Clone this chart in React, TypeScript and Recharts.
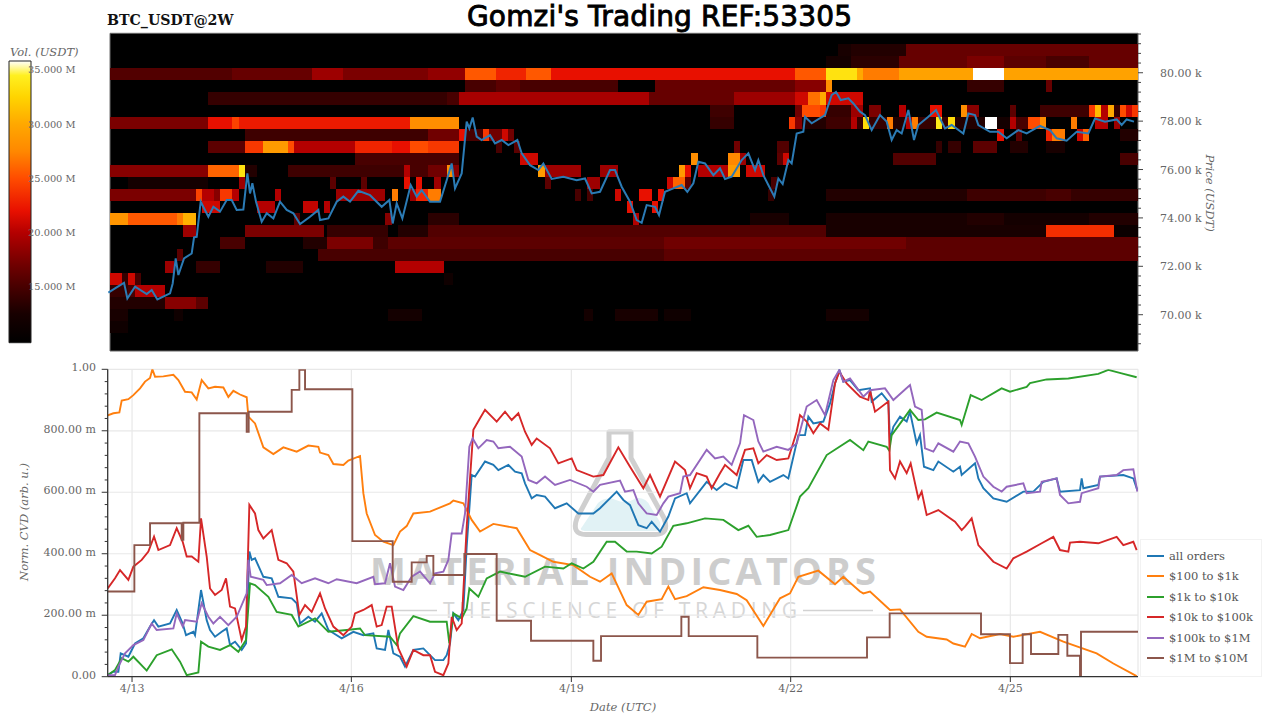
import React from 'react';
import {
  ComposedChart,
  LineChart,
  Line,
  XAxis,
  YAxis,
  CartesianGrid,
  Legend,
  ReferenceArea,
} from 'recharts';

const SERIF = '"DejaVu Serif", serif';
const PLOT_LEFT = 107.7;
const PLOT_RIGHT = 1138;

// time is kept in samples (about 6.6 min each), 4/13 00:00 is sample 396
const tMin = 323;
const tMax = 3414;
const dateTicks = [396, 1054, 1714, 2372, 3031];
const dateLabels = ['4/13', '4/16', '4/19', '4/22', '4/25'];

const priceMin = 68.5;
const priceMax = 81.63;
const priceLabels = [70, 72, 74, 76, 78, 80];
const priceMinor = [68.8, 69.2, 69.6, 70, 70.4, 70.8, 71.2, 71.6, 72, 72.4, 72.8, 73.2, 73.6, 74, 74.4, 74.8, 75.2, 75.6, 76, 76.4, 76.8, 77.2, 77.6, 78, 78.4, 78.8, 79.2, 79.6, 80, 80.4, 80.8, 81.2, 81.6];

const cvdLabels: Record<number, string> = { 0: '0.00', 200: '200.00 m', 400: '400.00 m', 600: '600.00 m', 800: '800.00 m', 1000: '1.00' };
const cvdTicks = [0, 40, 80, 120, 160, 200, 240, 280, 320, 360, 400, 440, 480, 520, 560, 600, 640, 680, 720, 760, 800, 840, 880, 920, 960, 1000];

const volLabels = [15, 20, 25, 30, 35];
const volMin = 9.83;
const volMax = 35.83;
// colour bar stops: [volume in M, colour]
const volStops: [number, string][] = [
  [9.83, '#000000'], [12.5, '#180000'], [15, '#480000'], [17, '#700000'], [20, '#b40000'], [22, '#e81000'],
  [25, '#ff4c00'], [27.5, '#ff8800'], [30, '#ffa800'], [32.5, '#ffd400'], [34.5, '#fff020'], [35.83, '#ffffff'],
];

// heatmap, one list per price bin from the top: [first column, last column, volume in M]
const heatRows: [number, number, number][][] = [
  [],
  [[119, 121, 12.5], [121, 130, 13], [130, 168, 16.5]],
  [[117, 121, 12], [121, 129, 13.5], [129, 140, 16.5], [140, 146, 17.5], [146, 153, 16], [153, 160, 15], [160, 168, 16.5]],
  [[0, 20, 15.5], [20, 33, 16.5], [33, 38, 19], [38, 52, 17.5], [52, 58, 18.5], [58, 63, 25.5], [63, 68, 23], [68, 72, 25.5], [72, 112, 22], [112, 117, 25.5], [117, 122, 33.5], [122, 123, 30], [123, 129, 27], [129, 141, 29.5], [141, 146, 36], [146, 168, 29.5]],
  [[58, 63, 15], [63, 67, 16], [67, 83, 15], [89, 112, 16.5], [112, 117, 18], [117, 118, 28], [140, 146, 14], [153, 154, 16.5]],
  [[16, 55, 14], [55, 57, 15], [57, 88, 19.5], [88, 102, 16.5], [102, 112, 19], [112, 114, 21], [114, 116, 26.5], [116, 117, 30], [117, 123, 21]],
  [[98, 102, 14.5], [112, 113, 17], [113, 116, 25], [116, 117, 24], [117, 121, 14], [121, 123, 19], [124, 126, 17.5], [129, 130, 20], [134, 136, 22], [139, 140, 28], [140, 142, 18], [147, 148, 16], [152, 160, 14.5], [160, 161, 24], [161, 162, 31], [162, 163, 20], [163, 164, 30], [164, 165, 14], [165, 166, 25], [166, 167, 21], [167, 168, 24]],
  [[0, 16, 17.5], [16, 20, 22], [20, 21, 24.5], [21, 49, 22.5], [49, 57, 28], [98, 102, 14], [111, 112, 24], [112, 113, 18], [113, 117, 13], [117, 121, 14.5], [121, 122, 20], [122, 123, 14], [123, 124, 33], [124, 127, 14], [127, 128, 27], [128, 130, 13], [130, 131, 20], [131, 132, 27], [132, 135, 14], [135, 136, 34], [136, 137, 14], [137, 138, 33], [138, 143, 13], [143, 145, 36], [145, 147, 12], [147, 148, 20], [148, 150, 15], [150, 152, 25], [152, 153, 28], [157, 158, 27], [161, 163, 20], [164, 165, 19]],
  [[22, 52, 14.5], [52, 57, 17], [57, 58, 22], [58, 61, 15], [61, 62, 24], [62, 64, 17], [64, 65, 21], [65, 66, 17], [145, 146, 22], [148, 149, 16], [153, 154, 23], [154, 156, 27], [158, 159, 21], [159, 160, 26], [165, 168, 13]],
  [[16, 22, 16], [22, 25, 24], [25, 29, 29], [29, 30, 25], [30, 40, 20], [40, 46, 23], [46, 49, 22], [49, 52, 25], [52, 57, 24], [63, 64, 15], [66, 67, 16], [102, 103, 17], [109, 111, 15.5], [135, 136, 14], [137, 139, 14], [141, 145, 16], [147, 150, 13], [153, 156, 12.5]],
  [[40, 57, 15], [67, 70, 21], [95, 96, 28], [101, 103, 27.5], [103, 104, 19], [109, 110, 16], [110, 111, 21], [128, 135, 15.5], [165, 168, 15]],
  [[0, 16, 18], [16, 21, 26], [21, 22, 33.5], [22, 24, 13], [29, 48, 14.5], [48, 49, 20], [49, 52, 15], [52, 55, 17], [55, 56, 28], [56, 57, 18], [70, 71, 29], [71, 77, 19], [80, 83, 19], [93, 94, 29], [94, 95, 22], [96, 101, 20], [101, 103, 29], [104, 107, 21]],
  [[3, 16, 12], [21, 22, 19], [36, 37, 16], [41, 42, 16], [48, 49, 22], [50, 51, 22], [53, 54, 19], [71, 72, 16], [78, 80, 19], [91, 92, 21], [92, 94, 26], [94, 95, 16], [108, 109, 15]],
  [[0, 14, 17.5], [14, 15, 24.5], [15, 17, 20], [17, 18, 18], [18, 20, 24], [20, 21, 20], [27, 28, 20], [37, 45, 19], [46, 47, 27], [49, 50, 19], [50, 52, 23], [52, 54, 27], [76, 77, 15], [78, 79, 15], [82.5, 83.5, 21], [86.5, 88.5, 22], [89.5, 90.5, 22], [107.5, 108.5, 14], [117, 140, 13], [140, 153, 14.5], [153, 157, 15], [157, 168, 14]],
  [[15, 18, 21], [24, 27, 20], [31.5, 34, 20.5], [35, 36, 20], [84.5, 85.5, 22], [88.5, 89.5, 22]],
  [[0, 3, 28.5], [3, 11, 25.5], [11, 12, 27], [12, 14, 30.5], [30, 31, 16], [45, 46, 18], [52, 57, 13.5], [85.5, 86.5, 20], [104.5, 111, 12.5], [117, 140, 12.5], [140, 146, 13], [146, 160, 12], [160, 168, 13]],
  [[12, 14, 19], [22, 35, 17.5], [35.5, 45.5, 14], [47, 52, 13], [52, 117, 15.5], [117, 153, 12.5], [153, 164, 23.5], [164, 168, 11]],
  [[18, 22, 15], [31.5, 35.5, 13], [35.5, 43, 17.5], [43, 45.5, 14.5], [45.5, 90.5, 16], [90.5, 130, 17], [130, 168, 16]],
  [[11, 12, 16], [34, 90.5, 15], [90.5, 168, 16]],
  [[9, 10.5, 19], [14, 18, 14], [25.5, 31.5, 13], [46.5, 54.5, 20]],
  [[0, 2, 21], [2, 3, 14], [3, 4, 21], [4, 5, 15], [54.5, 56, 11.5]],
  [[0, 3, 14], [3, 4, 15], [4, 9, 20]],
  [[0, 9, 13], [9, 14, 18], [14, 16, 16]],
  [[0, 3, 12.5], [10.5, 12, 11.5], [45.5, 51, 12], [77.5, 79, 12], [82.5, 89.5, 12.5], [90.5, 95, 11.5], [117, 124, 12]],
  [[0, 3, 11.5]],
];

// last traded price, [sample, k USDT]
const price: [number, number][] = [
  [325, 70.91], [345, 71.09], [362, 71.23], [372, 71.32], [382, 70.67], [405, 71.16], [440, 70.85], [455, 71.02], [472, 70.63], [510, 70.88], [518, 71.29], [527, 72.33], [535, 71.64], [552, 72.33], [575, 72.53], [582, 73.2], [590, 73.22], [602, 74.67], [625, 74.05], [640, 74.46], [660, 74.26], [680, 74.74], [695, 74.74], [710, 74.33], [730, 74.35], [742, 75.84], [750, 75.01], [757, 75.43], [768, 74.67], [785, 73.84], [800, 74.19], [820, 73.98], [840, 74.67], [860, 74.33], [880, 74.19], [900, 73.75], [930, 74.05], [955, 74.33], [960, 73.91], [985, 73.98], [1010, 74.67], [1030, 74.88], [1050, 74.67], [1075, 75.12], [1110, 74.94], [1145, 74.46], [1168, 74.74], [1178, 73.77], [1190, 74.6], [1207, 73.98], [1232, 75.36], [1250, 74.88], [1265, 75.15], [1290, 74.67],
  [1320, 74.67], [1340, 75.56], [1355, 76.25], [1365, 75.22], [1385, 75.84], [1400, 77.98], [1408, 77.7], [1418, 78.15], [1430, 77.36], [1445, 77.22], [1470, 77.42], [1485, 77.08], [1505, 77.22], [1525, 77.01], [1552, 77.22], [1565, 76.67], [1590, 76.18], [1615, 75.98], [1630, 76.25], [1655, 75.61], [1690, 75.7], [1730, 75.56], [1755, 75.63], [1775, 75.01], [1800, 75.08], [1830, 75.98], [1845, 75.98], [1865, 75.29], [1890, 74.67], [1910, 73.91], [1925, 73.8], [1940, 74.53], [1965, 74.46], [1977, 74.12], [1995, 75.08], [2020, 75.22], [2045, 75.36], [2062, 75.08], [2080, 75.43], [2095, 76.32], [2115, 76.25], [2140, 75.77], [2160, 76.05], [2175, 75.61], [2195, 75.7], [2225, 76.39], [2245, 76.67], [2265, 75.98], [2275, 76.39], [2290, 75.77], [2305, 75.36], [2323, 74.88], [2335, 75.63], [2348, 75.4], [2365, 76.39], [2375, 76.25], [2390, 77.49], [2410, 77.56], [2415, 78.18], [2435, 77.91], [2475, 78.25], [2495, 79.08], [2508, 79.21], [2522, 78.87], [2545, 78.94],
  [2560, 78.73], [2580, 78.39], [2595, 78.25], [2615, 77.63], [2640, 78.25], [2660, 77.98], [2675, 77.22], [2690, 77.63], [2705, 77.49], [2725, 78.46], [2742, 77.22], [2755, 77.84], [2785, 78.18], [2808, 78.46], [2835, 77.7], [2855, 77.84], [2890, 77.49], [2905, 78.32], [2925, 78.25], [2935, 77.84], [2970, 77.56], [2995, 77.56], [3020, 77.29], [3055, 77.63], [3080, 77.49], [3120, 77.8], [3150, 77.63], [3170, 77.29], [3200, 77.19], [3230, 77.56], [3265, 77.49], [3285, 78.11], [3315, 77.98], [3350, 78.07], [3365, 77.84], [3380, 78.07], [3402, 77.98],
];

// normalised CVD per order size, [sample, milli]
const allOrders: [number, number][] = [
  [323, 5], [340, 16], [355, 16], [362, 76], [385, 65], [405, 108], [430, 125], [450, 163], [462, 184], [475, 163], [510, 173], [530, 217], [548, 173], [558, 135], [580, 146], [585, 135], [603, 282], [620, 184], [630, 152], [645, 130], [665, 146], [680, 157], [690, 103], [705, 114], [725, 87], [738, 108], [748, 407], [755, 380], [765, 385], [790, 325], [815, 320], [835, 260], [875, 255], [890, 239], [900, 173], [925, 195], [945, 179], [965, 206], [985, 152], [1025, 125], [1060, 146], [1090, 135], [1120, 141], [1130, 92], [1155, 87], [1165, 152], [1180, 76], [1200, 65], [1215, 33], [1240, 87], [1270, 92], [1290, 70],
  [1305, 54], [1330, 54], [1340, 70], [1350, 108], [1360, 206], [1375, 184], [1390, 217], [1400, 423], [1415, 656], [1425, 651], [1455, 700], [1480, 689], [1495, 672], [1525, 689], [1545, 667], [1565, 662], [1575, 629], [1595, 580], [1610, 591], [1635, 586], [1665, 548], [1700, 564], [1735, 531], [1780, 531], [1800, 548], [1850, 602], [1870, 575], [1890, 558], [1915, 493], [1940, 483], [1955, 504], [1980, 472], [2005, 521], [2025, 580], [2060, 597], [2070, 564], [2120, 634], [2150, 607], [2175, 629], [2210, 613], [2230, 705], [2255, 705], [2275, 634], [2290, 656], [2310, 634], [2350, 656], [2365, 645], [2385, 738], [2395, 786], [2415, 786], [2425, 846], [2440, 824], [2470, 830], [2490, 889], [2505, 954], [2518, 998], [2530, 960],
  [2550, 965], [2575, 932], [2610, 938], [2615, 895], [2645, 922], [2665, 895], [2670, 770], [2680, 813], [2700, 846], [2720, 830], [2730, 862], [2750, 759], [2760, 786], [2772, 683], [2800, 672], [2815, 700], [2860, 667], [2880, 683], [2885, 656], [2925, 694], [2935, 645], [2950, 613], [2980, 580], [3020, 569], [3070, 602], [3100, 602], [3130, 634], [3170, 645], [3180, 602], [3240, 607], [3245, 645], [3250, 613], [3295, 624], [3300, 651], [3370, 656], [3400, 645], [3412, 607],
];

const hundredToOneK: [number, number][] = [
  [323, 850], [340, 857], [358, 860], [365, 898], [385, 903], [400, 916], [420, 938], [435, 960], [450, 972], [457, 1000], [465, 976], [490, 977], [520, 982], [535, 965], [555, 927], [575, 925], [590, 902], [605, 965], [625, 938], [645, 943], [670, 941], [685, 910], [700, 930], [720, 918], [740, 909], [745, 846], [765, 824], [790, 746], [820, 724], [850, 746], [890, 732], [925, 752], [955, 748], [960, 729], [985, 721], [1000, 692], [1030, 689], [1045, 703], [1080, 718], [1090, 597], [1100, 531], [1125, 461], [1150, 439], [1180, 428], [1200, 472], [1220, 490], [1240, 531], [1290, 537],
  [1350, 564], [1360, 573], [1390, 564], [1415, 510], [1440, 472], [1480, 497], [1550, 483], [1590, 412], [1610, 401], [1660, 374], [1720, 363], [1770, 325], [1800, 309], [1835, 336], [1880, 233], [1915, 201], [1940, 244], [1985, 252], [2005, 293], [2025, 252], [2060, 262], [2110, 291], [2160, 282], [2210, 269], [2240, 249], [2290, 165], [2340, 255], [2370, 271], [2395, 325], [2455, 345], [2505, 301], [2530, 325],
  [2580, 277], [2590, 271], [2610, 277], [2670, 217], [2700, 219], [2755, 146], [2780, 130], [2840, 121], [2860, 108], [2895, 98], [2915, 139], [2940, 125], [3000, 139], [3040, 130], [3120, 146], [3190, 114], [3290, 76], [3340, 43], [3410, 2],
];

const oneKToTenK: [number, number][] = [
  [323, 5], [345, 22], [365, 60], [385, 49], [400, 65], [440, 20], [470, 70], [515, 89], [540, 49], [560, 5], [595, 14], [603, 114], [625, 98], [660, 87], [690, 103], [715, 81], [738, 119], [750, 304], [765, 298], [805, 260], [830, 211], [875, 201], [895, 163], [945, 190], [985, 146], [1040, 152], [1080, 157], [1095, 135], [1170, 130], [1190, 103], [1200, 141], [1240, 197], [1290, 179],
  [1340, 179], [1348, 108], [1360, 206], [1385, 190], [1400, 222], [1408, 287], [1435, 260], [1460, 320], [1500, 342], [1575, 325], [1635, 358], [1690, 352], [1715, 369], [1750, 352], [1780, 374], [1820, 439], [1845, 439], [1880, 407], [1910, 407], [1955, 401], [1985, 423], [2020, 491], [2060, 499], [2115, 515], [2170, 510], [2215, 477], [2245, 491], [2270, 455], [2310, 461], [2365, 477], [2400, 586], [2425, 613], [2480, 721], [2550, 770],
  [2590, 737], [2605, 765], [2660, 748], [2668, 735], [2675, 786], [2730, 868], [2755, 835], [2775, 837], [2810, 859], [2880, 835], [2885, 819], [2912, 916], [2945, 900], [3005, 938], [3030, 927], [3080, 943], [3090, 955], [3140, 967], [3205, 970], [3295, 985], [3325, 998], [3365, 987], [3410, 974],
];

const tenKToHundredK: [number, number][] = [
  [323, 287], [345, 320], [360, 347], [385, 315], [400, 358], [425, 380], [445, 407], [462, 456], [475, 412], [510, 428], [530, 483], [548, 439], [560, 391], [575, 391], [595, 374], [603, 515], [620, 391], [630, 287], [645, 266], [665, 282], [678, 320], [690, 228], [705, 222], [725, 119], [738, 163], [748, 559], [765, 531], [775, 477], [790, 450], [815, 477], [835, 380], [860, 369], [880, 342], [898, 201], [915, 233], [935, 211], [960, 271], [975, 222], [1000, 163], [1030, 135], [1055, 163], [1065, 206], [1090, 217], [1115, 233], [1130, 163], [1145, 168], [1160, 228], [1175, 228], [1195, 92], [1220, 33], [1240, 87], [1270, 70], [1290, 70],
  [1305, 16], [1330, 5], [1345, 43], [1355, 195], [1370, 152], [1385, 173], [1400, 488], [1420, 803], [1440, 841], [1455, 868], [1490, 830], [1515, 862], [1535, 835], [1555, 857], [1575, 797], [1595, 754], [1610, 775], [1650, 743], [1675, 694], [1715, 710], [1730, 672], [1780, 651], [1810, 656], [1855, 746], [1890, 683], [1930, 613], [1950, 656], [1980, 586], [2025, 700], [2055, 672], [2070, 613], [2090, 662], [2120, 651], [2135, 613], [2160, 662], [2175, 689], [2210, 656], [2235, 738], [2260, 743], [2275, 694], [2300, 721], [2330, 705], [2365, 710], [2390, 797], [2400, 851], [2420, 830], [2440, 792], [2460, 824], [2485, 803], [2505, 954], [2518, 992], [2540, 954],
  [2580, 911], [2605, 900], [2610, 932], [2625, 862], [2665, 895], [2670, 672], [2685, 645], [2700, 700], [2720, 662], [2732, 694], [2755, 580], [2765, 602], [2780, 526], [2815, 542], [2865, 504], [2885, 477], [2895, 488], [2915, 515], [2935, 428], [2980, 374], [3020, 352], [3040, 385], [3080, 407], [3125, 434], [3160, 455], [3180, 412], [3205, 407], [3210, 436], [3240, 439], [3295, 434], [3350, 455], [3370, 428], [3400, 439], [3410, 412],
];

const hundredKToOneM: [number, number][] = [
  [323, 5], [345, 5], [355, 33], [375, 76], [400, 103], [430, 119], [455, 173], [470, 152], [520, 157], [530, 206], [548, 163], [555, 184], [590, 179], [605, 239], [625, 195], [640, 173], [660, 195], [685, 168], [710, 195], [740, 271], [745, 380], [752, 325], [790, 315], [800, 298], [840, 304], [875, 331], [905, 304], [945, 320], [985, 304], [1010, 317], [1070, 304], [1120, 325], [1125, 301], [1155, 304], [1170, 369], [1185, 293], [1210, 282], [1235, 325], [1260, 342], [1290, 304],
  [1305, 336], [1330, 342], [1345, 380], [1355, 466], [1385, 466], [1395, 531], [1408, 748], [1418, 775], [1435, 743], [1460, 770], [1480, 765], [1495, 743], [1530, 748], [1565, 716], [1585, 640], [1610, 629], [1635, 651], [1665, 624], [1710, 640], [1760, 618], [1780, 602], [1800, 624], [1860, 638], [1875, 602], [1900, 607], [1915, 564], [1940, 531], [1970, 526], [1990, 564], [2005, 586], [2040, 597], [2050, 651], [2070, 656], [2120, 738], [2145, 710], [2170, 716], [2195, 689], [2220, 759], [2232, 851], [2260, 835], [2275, 765], [2290, 732], [2330, 748], [2365, 738], [2390, 759], [2420, 879], [2450, 900], [2475, 851], [2500, 965], [2518, 998], [2530, 960],
  [2550, 970], [2590, 911], [2610, 932], [2655, 938], [2680, 900], [2730, 949], [2745, 879], [2765, 868], [2775, 743], [2800, 732], [2815, 759], [2860, 732], [2880, 765], [2905, 759], [2925, 716], [2950, 651], [2980, 618], [3005, 602], [3020, 618], [3070, 629], [3080, 597], [3120, 602], [3125, 634], [3170, 645], [3180, 591], [3205, 564], [3240, 569], [3245, 597], [3295, 613], [3300, 651], [3350, 656], [3370, 672], [3400, 675], [3412, 602],
];

// large orders move in steps
const oneMToTenM: [number, number][] = [
  [323, 277], [403, 428], [450, 499], [545, 445], [550, 501], [598, 857], [740, 797], [746, 862], [875, 933], [898, 998], [915, 935], [1057, 441], [1178, 309], [1235, 372], [1280, 393], [1300, 331], [1393, 399], [1490, 182], [1593, 117], [1780, 52], [1803, 132], [2044, 195], [2066, 132], [2272, 62], [2601, 128], [2669, 206], [2943, 138], [3030, 44], [3068, 138], [3093, 74], [3175, 136], [3202, 68], [3240, 0], [3243, 146], [3414, 146],
];

const seriesList: { name: string; color: string; values: [number, number][]; step?: boolean }[] = [
  { name: 'all orders', color: '#1f77b4', values: allOrders },
  { name: '$100 to $1k', color: '#ff7f0e', values: hundredToOneK },
  { name: '$1k to $10k', color: '#2ca02c', values: oneKToTenK },
  { name: '$10k to $100k', color: '#d62728', values: tenKToHundredK },
  { name: '$100k to $1M', color: '#9467bd', values: hundredKToOneM },
  { name: '$1M to $10M', color: '#8c564b', values: oneMToTenM, step: true },
];

const hexChannel = (hex: string, i: number) => parseInt(hex.slice(1 + i * 2, 3 + i * 2), 16);

const volColor = (vol: number) => {
  for (let i = 1; i < volStops.length; i++) {
    if (vol <= volStops[i][0]) {
      const [v0, c0] = volStops[i - 1];
      const [v1, c1] = volStops[i];
      const f = Math.max(0, (vol - v0) / (v1 - v0));
      const ch = [0, 1, 2].map((k) => Math.round(hexChannel(c0, k) + (hexChannel(c1, k) - hexChannel(c0, k)) * f));
      return `rgb(${ch.join(',')})`;
    }
  }
  return '#ffffff';
};

const colToSample = (c: number) => Math.min(tMax, 330 + c * 18.36);
const rowTop = (i: number) => 81.67 - i * 0.4972;

const textStyle = { fontFamily: SERIF, fontSize: 11, fill: '#666666' };

const PriceTick = ({ y, payload }: any) => {
  const major = priceLabels.includes(payload.value);
  return (
    <g>
      <line x1={PLOT_RIGHT} x2={PLOT_RIGHT + (major ? 5 : 3)} y1={y} y2={y} stroke="#444" strokeWidth={1} />
      {major && (
        <text x={1160} y={y + 4} style={textStyle}>{`${payload.value.toFixed(2)} k`}</text>
      )}
    </g>
  );
};

const CvdTick = ({ y, payload }: any) => {
  const label = cvdLabels[payload.value];
  return (
    <g>
      <line x1={PLOT_LEFT - (label ? 6 : 3)} x2={PLOT_LEFT} y1={y} y2={y} stroke="#333" strokeWidth={1} />
      {label && (
        <text x={96} y={y + 2} textAnchor="end" style={textStyle}>{label}</text>
      )}
    </g>
  );
};

const DateTick = ({ x, payload }: any) => (
  <g>
    <line x1={x} x2={x} y1={322} y2={327} stroke="#333" strokeWidth={1} />
    <text x={x} y={337} textAnchor="middle" style={textStyle}>{dateLabels[dateTicks.indexOf(payload.value)]}</text>
  </g>
);

const VolTick = ({ y, payload }: any) => (
  <text x={75.5} y={y + 3.5} textAnchor="end" style={{ ...textStyle, fontSize: 9.8 }}>{`${payload.value.toFixed(3)} M`}</text>
);

const CvdLegend = () => (
  <div style={{ width: 122, height: 138, background: '#fff', border: '1px solid #f2f2f2', boxSizing: 'border-box' }}>
    {seriesList.map((s, i) => (
      <div key={s.name} style={{ position: 'absolute', left: 7, top: 7 + i * 20.4, height: 20, display: 'flex', alignItems: 'center', whiteSpace: 'nowrap' }}>
        <span style={{ display: 'inline-block', width: 17, height: 2, background: s.color, marginRight: 5 }} />
        <span style={{ fontFamily: SERIF, fontSize: 11.5, color: '#555' }}>{s.name}</span>
      </div>
    ))}
  </div>
);

const Backdrop = () => (
  <svg width={1280} height={720} style={{ position: 'absolute', left: 0, top: 0 }}>
    <text x={107} y={25} style={{ fontFamily: SERIF, fontSize: 14.2, fontWeight: 700, fill: '#111' }}>BTC_USDT@2W</text>
    <text x={467} y={26} textLength={385} lengthAdjust="spacing" stroke="#000" strokeWidth={0.9} style={{ fontFamily: '"DejaVu Sans", sans-serif', fontSize: 28, fill: '#000' }}>{"Gomzi's Trading REF:53305"}</text>
    <text x={10} y={56} style={{ ...textStyle, fontStyle: 'italic', fontSize: 11.5 }}>Vol. (USDT)</text>
    <text x={1206} y={193} textAnchor="middle" transform="rotate(90 1206 193)" style={{ ...textStyle, fontStyle: 'italic', fontSize: 11.5 }}>Price (USDT)</text>
    <text x={28} y={522} textAnchor="middle" transform="rotate(-90 28 522)" style={{ ...textStyle, fontStyle: 'italic', fontSize: 11.5 }}>Norm. CVD (arb. u.)</text>
    <text x={623} y={711} textAnchor="middle" style={{ ...textStyle, fontStyle: 'italic', fontSize: 11.5 }}>Date (UTC)</text>

    {/* watermark sits behind the lines */}
    <path d="M582,527 L598,503 Q606,496 616,500 Q626,505 636,498 Q646,497 650,506 L660,522 Q662,531 654,531 L588,531 Q578,531 582,527 Z" fill="#e1f2f5" />
    <path d="M609,432 L631,432 L631,458 L664,518 Q670,534.5 655,534.5 L586,534.5 Q571,534.5 577,518 L609,458 Z" fill="none" stroke="#cfcfcf" strokeWidth={5} strokeLinejoin="round" />
    <text x={370} y={585} textLength={506} lengthAdjust="spacing" style={{ fontFamily: '"Open Sans", sans-serif', fontSize: 38, fontWeight: 700, fill: '#cdcdcd' }}>MATERIAL INDICATORS</text>
    <text x={443} y={618} textLength={354} lengthAdjust="spacing" style={{ fontFamily: '"Open Sans", sans-serif', fontSize: 21, fill: '#d6d6d6' }}>THE SCIENCE OF TRADING</text>
    <line x1={375} x2={437} y1={610.5} y2={610.5} stroke="#d2d2d2" strokeWidth={1.5} />
    <line x1={803} x2={873} y1={610.5} y2={610.5} stroke="#d2d2d2" strokeWidth={1.5} />
  </svg>
);

const HeatmapChart = () => (
  <ComposedChart width={1280} height={352} margin={{ top: 33.3, right: 0, bottom: 1, left: PLOT_LEFT }}>
    <XAxis type="number" dataKey="t" domain={[tMin, tMax]} hide allowDataOverflow />
    <YAxis
      orientation="right"
      width={142}
      type="number"
      domain={[priceMin, priceMax]}
      ticks={priceMinor}
      interval={0}
      axisLine={false}
      tickLine={false}
      tick={PriceTick}
      allowDataOverflow
    />
    <ReferenceArea x1={330} x2={tMax} y1={priceMin} y2={priceMax} fill="#000" fillOpacity={1} stroke="#666" strokeWidth={1} ifOverflow="visible" />
    {heatRows.flatMap((row, i) =>
      row.map(([c0, c1, vol]) => (
        <ReferenceArea
          key={`${i}-${c0}`}
          x1={colToSample(c0)}
          x2={colToSample(c1)}
          y1={rowTop(i + 1)}
          y2={rowTop(i)}
          fill={volColor(vol)}
          fillOpacity={1}
          stroke="none"
          ifOverflow="visible"
          shapeRendering="crispEdges"
        />
      ))
    )}
    <Line
      data={price.map(([t, p]) => ({ t, p }))}
      dataKey="p"
      type="linear"
      stroke="#2b7bb5"
      strokeWidth={2}
      dot={false}
      isAnimationActive={false}
    />
  </ComposedChart>
);

const VolumeBar = () => (
  <ComposedChart width={90} height={300} margin={{ top: 11, right: 0, bottom: 7.3, left: 9 }}>
    <defs>
      <linearGradient id="volGrad" x1="0" y1="1" x2="0" y2="0">
        {volStops.map(([v, c]) => (
          <stop key={v} offset={(v - volMin) / (volMax - volMin)} stopColor={c} />
        ))}
      </linearGradient>
    </defs>
    <XAxis type="number" dataKey="x" domain={[0, 1]} hide />
    <YAxis orientation="right" width={59} type="number" domain={[volMin, volMax]} ticks={volLabels} interval={0} axisLine={false} tickLine={false} tick={VolTick} />
    <ReferenceArea x1={0} x2={1} y1={volMin} y2={volMax} fill="url(#volGrad)" fillOpacity={1} stroke="#222" strokeWidth={1} ifOverflow="visible" />
    <Line data={volLabels.map((v) => ({ x: 0.5, v }))} dataKey="v" stroke="none" dot={false} isAnimationActive={false} />
  </ComposedChart>
);

const CvdChart = () => (
  <LineChart width={1280} height={365} margin={{ top: 14.3, right: 142, bottom: 0, left: 0 }}>
    <CartesianGrid stroke="#e8e8e8" strokeWidth={1.2} horizontalValues={[200, 400, 600, 800, 1000]} verticalValues={[...dateTicks, tMax]} />
    <XAxis
      type="number"
      dataKey="t"
      domain={[tMin, tMax]}
      ticks={dateTicks}
      interval={0}
      height={43.3}
      axisLine={{ stroke: '#333', strokeWidth: 1.3 }}
      tickLine={false}
      tick={DateTick}
      allowDataOverflow
    />
    <YAxis
      width={PLOT_LEFT}
      type="number"
      domain={[0, 1000]}
      ticks={cvdTicks}
      interval={0}
      axisLine={{ stroke: '#333', strokeWidth: 1.3 }}
      tickLine={false}
      tick={CvdTick}
      allowDataOverflow
    />
    <Legend
      layout="vertical"
      align="center"
      verticalAlign="middle"
      wrapperStyle={{ position: 'absolute', left: 1140, top: 184, width: 122, height: 138 }}
      content={CvdLegend}
    />
    {seriesList.map((s) => (
      <Line
        key={s.name}
        name={s.name}
        data={s.values.map(([t, v]) => ({ t, v }))}
        dataKey="v"
        type={s.step ? 'stepAfter' : 'linear'}
        stroke={s.color}
        strokeWidth={1.9}
        dot={false}
        isAnimationActive={false}
      />
    ))}
  </LineChart>
);

export default function App() {
  return (
    <div style={{ position: 'absolute', left: 0, top: 0, width: 1280, height: 720, background: '#fff', overflow: 'hidden' }}>
      <Backdrop />
      <div style={{ position: 'absolute', left: 0, top: 0 }}>
        <HeatmapChart />
      </div>
      <div style={{ position: 'absolute', left: 0, top: 50 }}>
        <VolumeBar />
      </div>
      <div style={{ position: 'absolute', left: 0, top: 355 }}>
        <CvdChart />
      </div>
    </div>
  );
}
